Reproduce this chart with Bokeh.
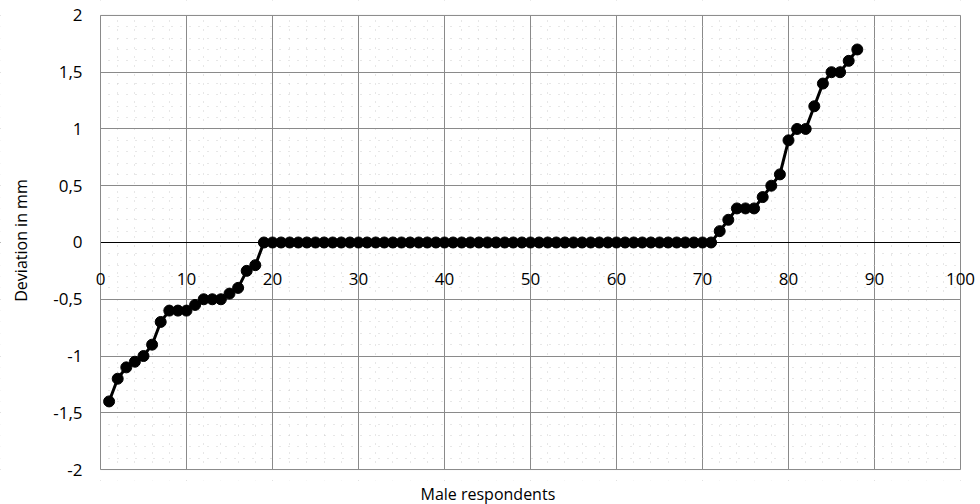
from bokeh.plotting import figure
from bokeh.models import (FixedTicker, Grid, ColumnDataSource, LinearAxis,
                          CustomJSTickFormatter, Title, Range1d, BoxAnnotation)
from bokeh.embed import file_html
from bokeh.resources import INLINE

# ---- data ----
respondents = list(range(1, 89))
deviation = [
    -1.4, -1.2, -1.1, -1.05, -1.0, -0.9, -0.7, -0.6, -0.6, -0.6,
    -0.55, -0.5, -0.5, -0.5, -0.45, -0.4, -0.25, -0.2,
    0, 0, 0, 0, 0, 0, 0, 0, 0, 0, 0, 0, 0, 0, 0, 0, 0, 0, 0, 0,
    0, 0, 0, 0, 0, 0, 0, 0, 0, 0, 0, 0, 0, 0, 0, 0, 0, 0, 0, 0,
    0, 0, 0, 0, 0, 0, 0, 0, 0, 0, 0, 0, 0,
    0.1, 0.2, 0.3, 0.3, 0.3, 0.4, 0.5, 0.6, 0.9, 1.0, 1.0, 1.2,
    1.4, 1.5, 1.5, 1.6, 1.7,
]
x_ticks = [0, 10, 20, 30, 40, 50, 60, 70, 80, 90, 100]
x_minor = list(range(0, 101, 2))
y_ticks = [-2, -1.5, -1, -0.5, 0, 0.5, 1, 1.5, 2]
y_minor = [round(-2 + 0.1 * i, 1) for i in range(41)]
X_MIN, X_MAX, Y_MIN, Y_MAX = 0, 100, -2, 2

FONT = "Open Sans"
GRID = "#8a8a8a"

# ---- layout (pixels) ----
W, H = 980, 504
BOTTOM = 22                       # panel for the x-axis title
X0_PX, X1_PX = 100, 960           # where x=0 and x=100 fall
Y1_PX, Y0_PX = 15, 471            # where y=2 and y=-2 fall
xs = (X1_PX - X0_PX) / (X_MAX - X_MIN)
ys = (Y0_PX - Y1_PX) / (Y_MAX - Y_MIN)
frame_h = H - BOTTOM
x_range = Range1d(X_MIN - X0_PX / xs, X_MAX + (W - X1_PX) / xs)
y_range = Range1d(Y_MIN - (frame_h - Y0_PX) / ys, Y_MAX + Y1_PX / ys)

p = figure(width=W, height=H, output_backend="svg", toolbar_location=None,
           title=None, x_range=x_range, y_range=y_range,
           x_axis_location=None, y_axis_location=None,
           min_border_left=0, min_border_right=0, min_border_top=0,
           min_border_bottom=BOTTOM)
p.outline_line_color = None
p.grid.visible = False

# grids
vgrid = Grid(dimension=0, ticker=FixedTicker(ticks=x_ticks, minor_ticks=x_minor))
hgrid = Grid(dimension=1, ticker=FixedTicker(ticks=y_ticks, minor_ticks=y_minor))
for g in (vgrid, hgrid):
    g.grid_line_color = GRID
    g.grid_line_width = 1
    g.minor_grid_line_color = "#cfcfcf"
    g.minor_grid_line_dash = "1 8"
    g.minor_grid_line_width = 1
    p.add_layout(g)
p.add_layout(Grid(dimension=1, ticker=FixedTicker(ticks=[0]),
                  grid_line_color="black", grid_line_width=1))

# white masks outside the plot box, then the box border
for kw in (dict(right=X_MIN), dict(left=X_MAX), dict(bottom=Y_MAX), dict(top=Y_MIN)):
    p.add_layout(BoxAnnotation(fill_color="white", fill_alpha=1,
                               line_color=None, level="underlay", **kw))
p.add_layout(BoxAnnotation(left=X_MIN, right=X_MAX, bottom=Y_MIN, top=Y_MAX,
                           fill_color=None, fill_alpha=0, line_color=GRID,
                           line_alpha=1, line_width=1, level="underlay"))

# y axis drawn along x = 0
yax = LinearAxis(fixed_location=X_MIN,
                 ticker=FixedTicker(ticks=y_ticks, minor_ticks=y_minor),
                 formatter=CustomJSTickFormatter(
                     code="return tick.toString().replace('.', ',');"),
                 axis_line_color=None, major_tick_line_color=None,
                 minor_tick_line_color=None, major_label_standoff=12,
                 major_label_text_font=FONT, major_label_text_font_size="17px",
                 major_label_text_color="black",
                 axis_label="Deviation in mm", axis_label_text_font=FONT,
                 axis_label_text_font_size="16px",
                 axis_label_text_font_style="normal",
                 axis_label_text_color="black", axis_label_standoff=18)
p.add_layout(yax, "left")

# x axis drawn along y = 0
xax = LinearAxis(fixed_location=0,
                 ticker=FixedTicker(ticks=x_ticks, minor_ticks=x_minor),
                 axis_line_color=None, major_tick_line_color=None,
                 minor_tick_line_color=None, major_label_standoff=25,
                 major_label_text_font=FONT, major_label_text_font_size="17px",
                 major_label_text_color="black")
p.add_layout(xax, "below")

# data
src = ColumnDataSource(dict(x=respondents, y=deviation))
p.line("x", "y", source=src, line_color="black", line_width=3)
p.scatter("x", "y", source=src, size=11, fill_color="black", line_color="black")

p.add_layout(Title(text="Male respondents", align="left", offset=420,
                   standoff=0, text_font=FONT, text_font_size="16px",
                   text_font_style="normal", text_color="black"), "below")

open("out.html", "w").write(file_html(p, INLINE))
